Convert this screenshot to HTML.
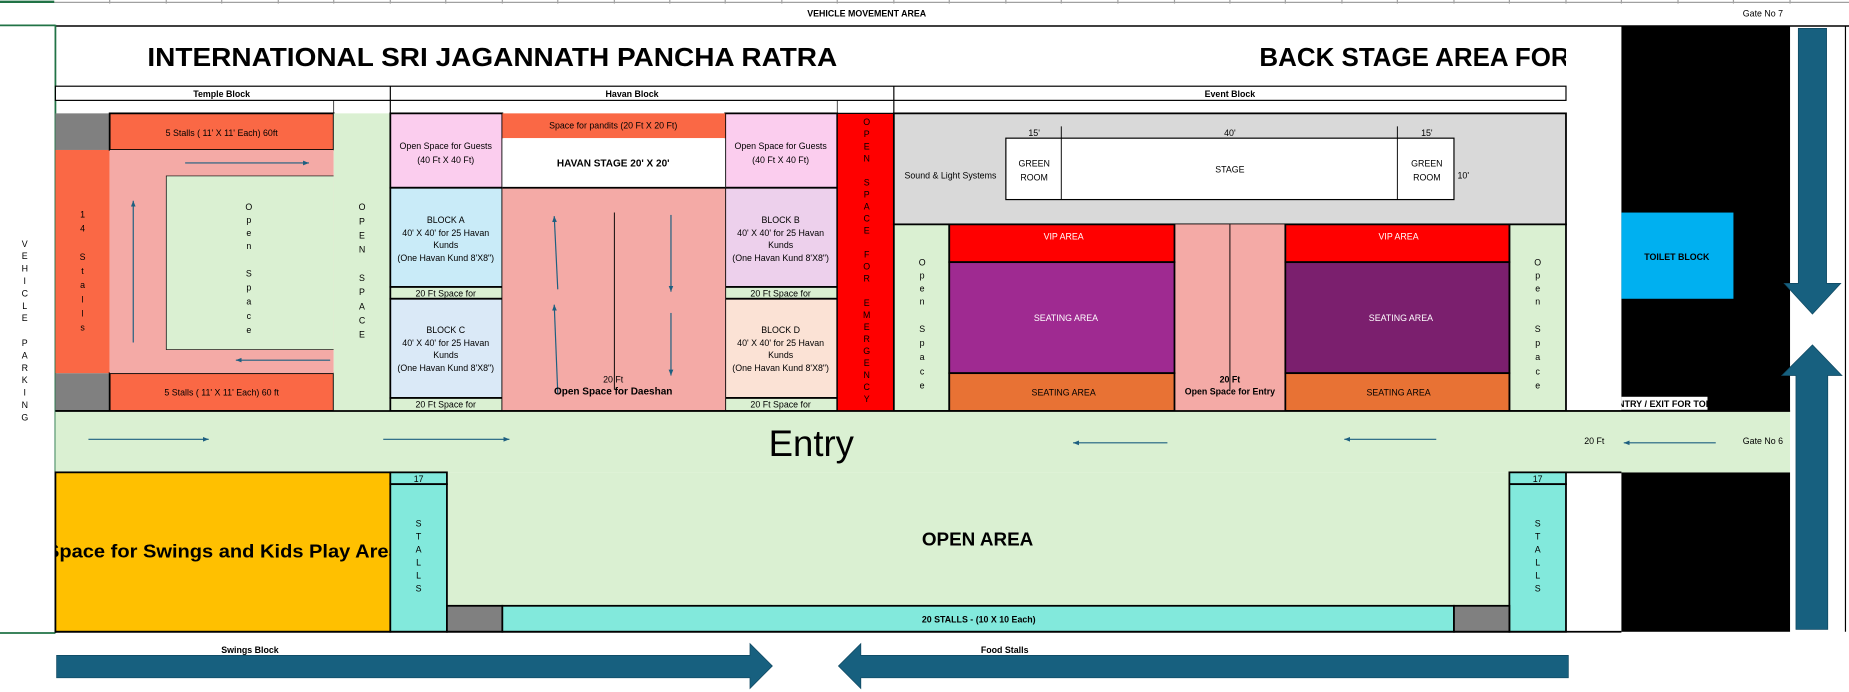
<!DOCTYPE html>
<html><head><meta charset="utf-8"><style>
html,body{margin:0;padding:0;background:#fff;width:1849px;height:692px;overflow:hidden}
svg{display:block}
text{font-family:"Liberation Sans Narrow","Liberation Sans",Arial,sans-serif;fill:#000}
.s{font-size:7.5px}
.b{font-weight:bold}
.c{text-anchor:middle}
</style></head><body>
<svg width="1849" height="692" viewBox="0 0 1568 586" preserveAspectRatio="none" xmlns="http://www.w3.org/2000/svg">
<defs>
<marker id="ah" markerWidth="6" markerHeight="6" refX="5" refY="3" orient="auto"><path d="M0,1 L5,3 L0,5 z" fill="#1d5f80"/></marker>
</defs>
<line x1="0" y1="2" x2="1568" y2="2" stroke="#a0a0a0" stroke-width="1"/>
<g stroke="#a0a0a0" stroke-width="1">
<line x1="93" y1="0" x2="93" y2="3"/><line x1="141" y1="0" x2="141" y2="3"/><line x1="188" y1="0" x2="188" y2="3"/><line x1="236" y1="0" x2="236" y2="3"/><line x1="283" y1="0" x2="283" y2="3"/><line x1="331" y1="0" x2="331" y2="3"/><line x1="378" y1="0" x2="378" y2="3"/><line x1="426" y1="0" x2="426" y2="3"/><line x1="473" y1="0" x2="473" y2="3"/><line x1="521" y1="0" x2="521" y2="3"/><line x1="568" y1="0" x2="568" y2="3"/><line x1="615" y1="0" x2="615" y2="3"/><line x1="663" y1="0" x2="663" y2="3"/><line x1="710" y1="0" x2="710" y2="3"/><line x1="758" y1="0" x2="758" y2="3"/><line x1="805" y1="0" x2="805" y2="3"/><line x1="853" y1="0" x2="853" y2="3"/><line x1="900" y1="0" x2="900" y2="3"/><line x1="948" y1="0" x2="948" y2="3"/><line x1="996" y1="0" x2="996" y2="3"/><line x1="1043" y1="0" x2="1043" y2="3"/><line x1="1090" y1="0" x2="1090" y2="3"/><line x1="1138" y1="0" x2="1138" y2="3"/><line x1="1185" y1="0" x2="1185" y2="3"/><line x1="1233" y1="0" x2="1233" y2="3"/><line x1="1280" y1="0" x2="1280" y2="3"/><line x1="1328" y1="0" x2="1328" y2="3"/><line x1="1375" y1="0" x2="1375" y2="3"/><line x1="1423" y1="0" x2="1423" y2="3"/><line x1="1470" y1="0" x2="1470" y2="3"/><line x1="1518" y1="0" x2="1518" y2="3"/>
</g>
<line x1="0" y1="1.5" x2="46" y2="1.5" stroke="#217346" stroke-width="2"/>
<text x="735" y="14" class="s b c">VEHICLE MOVEMENT AREA</text>
<text x="1495" y="14" class="s c">Gate No 7</text>
<line x1="47" y1="22" x2="1568" y2="22" stroke="#000" stroke-width="1.2"/>
<line x1="0" y1="21.5" x2="47" y2="21.5" stroke="#217346" stroke-width="1.5"/>
<line x1="47" y1="21" x2="47" y2="536" stroke="#217346" stroke-width="1.5"/>
<line x1="0" y1="536" x2="47" y2="536" stroke="#217346" stroke-width="1.5"/>

<text x="125" y="56" class="b" style="font-size:22px" textLength="585" lengthAdjust="spacingAndGlyphs">INTERNATIONAL SRI JAGANNATH PANCHA RATRA</text>
<svg x="1060" y="30" width="268" height="40" overflow="hidden"><text x="8" y="26" class="b" style="font-size:22px">BACK STAGE AREA FOR ARTISTS</text></svg>

<rect x="47" y="73" width="1281" height="12" fill="#fff" stroke="#000" stroke-width="1"/>
<line x1="331" y1="73" x2="331" y2="96" stroke="#000"/>
<line x1="758" y1="73" x2="758" y2="96" stroke="#000"/>
<line x1="283" y1="85" x2="283" y2="96" stroke="#000" stroke-width=".6"/>
<line x1="710" y1="85" x2="710" y2="96" stroke="#000" stroke-width=".6"/>
<text x="188" y="82" class="s b c">Temple Block</text>
<text x="536" y="82" class="s b c">Havan Block</text>
<text x="1043" y="82" class="s b c">Event Block</text>

<rect x="47" y="96" width="46" height="31" fill="#808080"/>
<rect x="47" y="316" width="46" height="32" fill="#808080"/>
<rect x="47" y="127" width="46" height="189" fill="#fa6845"/>
<rect x="93" y="96" width="190" height="31" fill="#fa6845" stroke="#000" stroke-width="1.5"/>
<rect x="93" y="316" width="190" height="32" fill="#fa6845" stroke="#000" stroke-width="1.5"/>
<rect x="93" y="127" width="190" height="189" fill="#f4aaa6"/>
<rect x="141" y="149" width="142" height="147" fill="#daf0d2"/>
<path d="M283,149 H141 V296 H283" fill="none" stroke="#000" stroke-width=".6"/>
<rect x="283" y="96" width="48" height="252" fill="#daf0d2"/>
<line x1="47" y1="348" x2="283" y2="348" stroke="#000" stroke-width="1.5"/>
<text x="188" y="115" class="s c">5 Stalls ( 11' X 11' Each) 60ft</text>
<text x="188" y="335" class="s c">5 Stalls ( 11' X 11' Each) 60 ft</text>
<line x1="157" y1="138" x2="262" y2="138" stroke="#1d5f80" stroke-width="1" marker-end="url(#ah)"/>
<line x1="113" y1="290" x2="113" y2="170" stroke="#1d5f80" stroke-width="1" marker-end="url(#ah)"/>
<line x1="280" y1="305" x2="200" y2="305" stroke="#1d5f80" stroke-width="1" marker-end="url(#ah)"/>
<text class="s c" y="184"><tspan x="70">1</tspan><tspan x="70" dy="12">4</tspan><tspan x="70" dy="24">S</tspan><tspan x="70" dy="12">t</tspan><tspan x="70" dy="12">a</tspan><tspan x="70" dy="12">l</tspan><tspan x="70" dy="12">l</tspan><tspan x="70" dy="12">s</tspan></text>
<text class="s c" y="178"><tspan x="211">O</tspan><tspan x="211" dy="11">p</tspan><tspan x="211" dy="11">e</tspan><tspan x="211" dy="11">n</tspan><tspan x="211" dy="23">S</tspan><tspan x="211" dy="12">p</tspan><tspan x="211" dy="12">a</tspan><tspan x="211" dy="12">c</tspan><tspan x="211" dy="12">e</tspan></text>
<text class="s c" y="178"><tspan x="307">O</tspan><tspan x="307" dy="12">P</tspan><tspan x="307" dy="12">E</tspan><tspan x="307" dy="12">N</tspan><tspan x="307" dy="24">S</tspan><tspan x="307" dy="12">P</tspan><tspan x="307" dy="12">A</tspan><tspan x="307" dy="12">C</tspan><tspan x="307" dy="12">E</tspan></text>
<text class="s c" y="209"><tspan x="21">V</tspan><tspan x="21" dy="10.5">E</tspan><tspan x="21" dy="10.5">H</tspan><tspan x="21" dy="10.5">I</tspan><tspan x="21" dy="10.5">C</tspan><tspan x="21" dy="10.5">L</tspan><tspan x="21" dy="10.5">E</tspan><tspan x="21" dy="21">P</tspan><tspan x="21" dy="10.5">A</tspan><tspan x="21" dy="10.5">R</tspan><tspan x="21" dy="10.5">K</tspan><tspan x="21" dy="10.5">I</tspan><tspan x="21" dy="10.5">N</tspan><tspan x="21" dy="10.5">G</tspan></text>

<g stroke="#000" stroke-width="1.5">
<rect x="331" y="96" width="95" height="63" fill="#fbcdee"/>
<rect x="331" y="159" width="95" height="84" fill="#c9ebf8"/>
<rect x="331" y="243" width="95" height="10" fill="#daf0d2"/>
<rect x="331" y="253" width="95" height="84" fill="#dae9f7"/>
<rect x="331" y="337" width="95" height="11" fill="#daf0d2"/>
<rect x="615" y="96" width="95" height="63" fill="#fbcdee"/>
<rect x="615" y="159" width="95" height="84" fill="#edd0ec"/>
<rect x="615" y="243" width="95" height="10" fill="#daf0d2"/>
<rect x="615" y="253" width="95" height="84" fill="#fbe2d5"/>
<rect x="615" y="337" width="95" height="11" fill="#daf0d2"/>
</g>
<rect x="426" y="96" width="189" height="21" fill="#fa6845"/>
<rect x="426" y="117" width="189" height="42" fill="#fff"/>
<rect x="426" y="159" width="189" height="189" fill="#f4aaa6"/>
<line x1="426" y1="159" x2="615" y2="159" stroke="#000" stroke-width="1.5"/>
<line x1="426" y1="348" x2="615" y2="348" stroke="#000" stroke-width="1.5"/>
<line x1="521" y1="180" x2="521" y2="330" stroke="#000" stroke-width=".8"/>
<line x1="473" y1="245" x2="470" y2="183" stroke="#1d5f80" stroke-width="1" marker-end="url(#ah)"/>
<line x1="473" y1="333" x2="470" y2="258" stroke="#1d5f80" stroke-width="1" marker-end="url(#ah)"/>
<line x1="569" y1="182" x2="569" y2="247" stroke="#1d5f80" stroke-width="1" marker-end="url(#ah)"/>
<line x1="569" y1="265" x2="569" y2="318" stroke="#1d5f80" stroke-width="1" marker-end="url(#ah)"/>
<text x="520" y="109" class="s c">Space for pandits (20 Ft X 20 Ft)</text>
<text x="520" y="141" class="s b c" style="font-size:8.5px">HAVAN STAGE 20' X 20'</text>
<text x="520" y="324" class="s c">20 Ft</text>
<text x="520" y="334" class="s b c" style="font-size:8.5px">Open Space for Daeshan</text>
<text x="378" y="126" class="s c">Open Space for Guests</text><text x="378" y="138" class="s c">(40 Ft X 40 Ft)</text>
<text x="662" y="126" class="s c">Open Space for Guests</text><text x="662" y="138" class="s c">(40 Ft X 40 Ft)</text>
<text x="378" y="189" class="s c">BLOCK A</text><text x="378" y="200" class="s c">40' X 40' for 25 Havan</text><text x="378" y="210" class="s c">Kunds</text><text x="378" y="221" class="s c">(One Havan Kund 8'X8")</text>
<text x="662" y="189" class="s c">BLOCK B</text><text x="662" y="200" class="s c">40' X 40' for 25 Havan</text><text x="662" y="210" class="s c">Kunds</text><text x="662" y="221" class="s c">(One Havan Kund 8'X8")</text>
<text x="378" y="282" class="s c">BLOCK C</text><text x="378" y="293" class="s c">40' X 40' for 25 Havan</text><text x="378" y="303" class="s c">Kunds</text><text x="378" y="314" class="s c">(One Havan Kund 8'X8")</text>
<text x="662" y="282" class="s c">BLOCK D</text><text x="662" y="293" class="s c">40' X 40' for 25 Havan</text><text x="662" y="303" class="s c">Kunds</text><text x="662" y="314" class="s c">(One Havan Kund 8'X8")</text>
<text x="378" y="251" class="s c">20 Ft Space for</text><text x="662" y="251" class="s c">20 Ft Space for</text>
<text x="378" y="345" class="s c">20 Ft Space for</text><text x="662" y="345" class="s c">20 Ft Space for</text>
<rect x="710" y="96" width="48" height="252" fill="#ff0000" stroke="#000" stroke-width="1"/>
<text class="s c" y="106"><tspan x="735">O</tspan><tspan x="735" dy="10.2">P</tspan><tspan x="735" dy="10.2">E</tspan><tspan x="735" dy="10.2">N</tspan><tspan x="735" dy="20.4">S</tspan><tspan x="735" dy="10.2">P</tspan><tspan x="735" dy="10.2">A</tspan><tspan x="735" dy="10.2">C</tspan><tspan x="735" dy="10.2">E</tspan><tspan x="735" dy="20.4">F</tspan><tspan x="735" dy="10.2">O</tspan><tspan x="735" dy="10.2">R</tspan><tspan x="735" dy="20.4">E</tspan><tspan x="735" dy="10.2">M</tspan><tspan x="735" dy="10.2">E</tspan><tspan x="735" dy="10.2">R</tspan><tspan x="735" dy="10.2">G</tspan><tspan x="735" dy="10.2">E</tspan><tspan x="735" dy="10.2">N</tspan><tspan x="735" dy="10.2">C</tspan><tspan x="735" dy="10.2">Y</tspan></text>

<rect x="758" y="96" width="570" height="94" fill="#d9d9d9" stroke="#000" stroke-width="1.5"/>
<rect x="853" y="117" width="380" height="52" fill="#fff" stroke="#000" stroke-width="1"/>
<line x1="900" y1="107" x2="900" y2="169" stroke="#000" stroke-width=".8"/>
<line x1="1185" y1="107" x2="1185" y2="169" stroke="#000" stroke-width=".8"/>
<text x="877" y="115" class="s c">15'</text><text x="1043" y="115" class="s c">40'</text><text x="1210" y="115" class="s c">15'</text>
<text x="877" y="141" class="s c">GREEN</text><text x="877" y="153" class="s c">ROOM</text>
<text x="1210" y="141" class="s c">GREEN</text><text x="1210" y="153" class="s c">ROOM</text>
<text x="1043" y="146" class="s c">STAGE</text>
<text x="806" y="151" class="s c">Sound &amp; Light Systems</text>
<text x="1236" y="151" class="s">10'</text>
<rect x="758" y="190" width="47" height="158" fill="#daf0d2" stroke="#000" stroke-width="1.5"/>
<rect x="1280" y="190" width="48" height="158" fill="#daf0d2" stroke="#000" stroke-width="1.5"/>
<rect x="996" y="190" width="94" height="158" fill="#f4aaa6"/>
<line x1="1043" y1="190" x2="1043" y2="330" stroke="#000" stroke-width=".8"/>
<g stroke="#000" stroke-width="1.5">
<rect x="805" y="190" width="191" height="32" fill="#ff0000"/>
<rect x="805" y="222" width="191" height="94" fill="#9f2a91"/>
<rect x="805" y="316" width="191" height="32" fill="#e87234"/>
<rect x="1090" y="190" width="190" height="32" fill="#ff0000"/>
<rect x="1090" y="222" width="190" height="94" fill="#7b1f6e"/>
<rect x="1090" y="316" width="190" height="32" fill="#e87234"/>
</g>
<text x="902" y="203" class="s c" style="fill:#fff">VIP AREA</text>
<text x="1186" y="203" class="s c" style="fill:#fff">VIP AREA</text>
<text x="904" y="272" class="s c" style="fill:#fff">SEATING AREA</text>
<text x="1188" y="272" class="s c" style="fill:#fff">SEATING AREA</text>
<text x="902" y="335" class="s c">SEATING AREA</text>
<text x="1186" y="335" class="s c">SEATING AREA</text>
<text x="1043" y="324" class="s b c">20 Ft</text>
<text x="1043" y="334" class="s b c">Open Space for Entry</text>
<text class="s c" y="225"><tspan x="782">O</tspan><tspan x="782" dy="11">p</tspan><tspan x="782" dy="11">e</tspan><tspan x="782" dy="11">n</tspan><tspan x="782" dy="23">S</tspan><tspan x="782" dy="12">p</tspan><tspan x="782" dy="12">a</tspan><tspan x="782" dy="12">c</tspan><tspan x="782" dy="12">e</tspan></text>
<text class="s c" y="225"><tspan x="1304">O</tspan><tspan x="1304" dy="11">p</tspan><tspan x="1304" dy="11">e</tspan><tspan x="1304" dy="11">n</tspan><tspan x="1304" dy="23">S</tspan><tspan x="1304" dy="12">p</tspan><tspan x="1304" dy="12">a</tspan><tspan x="1304" dy="12">c</tspan><tspan x="1304" dy="12">e</tspan></text>

<rect x="1375" y="22" width="143" height="327" fill="#000"/>
<rect x="1375" y="400" width="143" height="135" fill="#000"/>
<rect x="1375" y="180" width="95" height="73" fill="#00b0f0"/>
<text x="1422" y="220" class="s b c">TOILET BLOCK</text>
<rect x="1375" y="336" width="73" height="11" fill="#fff"/>
<svg x="1375" y="334" width="73" height="14" overflow="hidden"><text x="-8" y="10.5" class="s b" style="font-size:8px" textLength="96" lengthAdjust="spacingAndGlyphs">ENTRY / EXIT FOR TOILET</text></svg>
<line x1="1328" y1="348" x2="1518" y2="348" stroke="#000" stroke-width="1.2"/>
<line x1="1565" y1="22" x2="1565" y2="535" stroke="#000" stroke-width="1"/>
<path d="M1525,24 H1549 V240 H1561 L1537,266 L1513,240 H1525 Z" fill="#17607f" stroke="#0f4760" stroke-width=".6"/>
<path d="M1537,292 L1562,318 H1550 V533 H1523 V318 H1511 Z" fill="#17607f" stroke="#0f4760" stroke-width=".6"/>

<rect x="47" y="348" width="1471" height="52" fill="#daf0d2"/>
<line x1="47" y1="348" x2="1518" y2="348" stroke="#000" stroke-width="1.5"/>
<text x="688" y="386" class="c" style="font-size:31px">Entry</text>
<line x1="75" y1="372" x2="177" y2="372" stroke="#1d5f80" marker-end="url(#ah)"/>
<line x1="325" y1="372" x2="432" y2="372" stroke="#1d5f80" marker-end="url(#ah)"/>
<line x1="990" y1="375" x2="910" y2="375" stroke="#1d5f80" marker-end="url(#ah)"/>
<line x1="1218" y1="372" x2="1140" y2="372" stroke="#1d5f80" marker-end="url(#ah)"/>
<line x1="1455" y1="375" x2="1377" y2="375" stroke="#1d5f80" marker-end="url(#ah)"/>
<text x="1352" y="376" class="s c">20 Ft</text>
<text x="1495" y="376" class="s c">Gate No 6</text>

<rect x="379" y="400" width="901" height="113" fill="#daf0d2"/>
<rect x="47" y="400" width="284" height="135" fill="#ffc000" stroke="#000" stroke-width="1.5"/>
<svg x="47" y="440" width="284" height="40" overflow="hidden"><text x="142" y="32" class="b c" style="font-size:16px" textLength="300" lengthAdjust="spacingAndGlyphs">Space for Swings and Kids Play Area</text></svg>
<g stroke="#000" stroke-width="1.5">
<rect x="331" y="400" width="48" height="10" fill="#82e9dc"/>
<rect x="331" y="410" width="48" height="125" fill="#82e9dc"/>
<rect x="1280" y="400" width="48" height="10" fill="#82e9dc"/>
<rect x="1280" y="410" width="48" height="125" fill="#82e9dc"/>
<rect x="379" y="513" width="47" height="22" fill="#808080"/>
<rect x="426" y="513" width="807" height="22" fill="#82e9dc"/>
<rect x="1233" y="513" width="47" height="22" fill="#808080"/>
</g>
<line x1="1328" y1="400" x2="1375" y2="400" stroke="#000" stroke-width="1.5"/>
<line x1="47" y1="535" x2="1375" y2="535" stroke="#000" stroke-width="1.5"/>
<text x="355" y="408" class="s c">17</text>
<text x="1304" y="408" class="s c">17</text>
<text class="s c" y="446"><tspan x="355">S</tspan><tspan x="355" dy="11">T</tspan><tspan x="355" dy="11">A</tspan><tspan x="355" dy="11">L</tspan><tspan x="355" dy="11">L</tspan><tspan x="355" dy="11">S</tspan></text>
<text class="s c" y="446"><tspan x="1304">S</tspan><tspan x="1304" dy="11">T</tspan><tspan x="1304" dy="11">A</tspan><tspan x="1304" dy="11">L</tspan><tspan x="1304" dy="11">L</tspan><tspan x="1304" dy="11">S</tspan></text>
<text x="829" y="462" class="b c" style="font-size:16px">OPEN AREA</text>
<text x="830" y="527" class="s b c">20 STALLS - (10 X 10 Each)</text>

<text x="212" y="553" class="s b c">Swings Block</text>
<text x="852" y="553" class="s b c">Food Stalls</text>
<path d="M48,555 H636 V545 L655,564 L636,583 V574 H48 Z" fill="#17607f" stroke="#0f4760" stroke-width=".6"/>
<path d="M730,555 H1330 V574 H730 V583 L711,564 L730,545 Z" fill="#17607f" stroke="#0f4760" stroke-width=".6"/>
</svg>
</body></html>
